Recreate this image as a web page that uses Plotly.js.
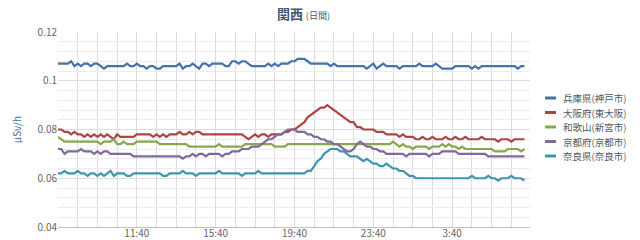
<!DOCTYPE html>
<html>
<head>
<meta charset="utf-8">
<script src="https://cdn.plot.ly/plotly-3.0.1.min.js"></script>
<style>html,body{margin:0;padding:0;background:#fff;}#chart{width:640px;height:240px;}</style>
</head>
<body>
<div id="chart"></div>
<script>
// Series names (legend)
const seriesNames = ['兵庫県(神戸市)', '大阪府(東大阪)', '和歌山(新宮市)', '京都府(京都市)', '奈良県(奈良市)'];
const seriesColors = ['#4572A7', '#AA4643', '#89A54E', '#80699B', '#3D96AE'];

// 10-minute readings from 07:40 to 07:20 next day (µSv/h)
const hyogo = [
  0.107,0.107,0.107,0.107,0.108,0.106, 0.107,0.106,0.107,0.107,0.106,0.107,
  0.107,0.106,0.105,0.106,0.106,0.106, 0.106,0.106,0.106,0.107,0.106,0.106,
  0.107,0.106,0.106,0.105,0.106,0.106, 0.105,0.105,0.106,0.106,0.106,0.106,
  0.106,0.107,0.105,0.106,0.106,0.107, 0.106,0.105,0.107,0.107,0.106,0.107,
  0.107,0.107,0.107,0.106,0.106,0.108, 0.108,0.107,0.108,0.108,0.107,0.106,
  0.106,0.106,0.106,0.106,0.107,0.106, 0.107,0.106,0.107,0.107,0.107,0.108,
  0.108,0.109,0.109,0.109,0.108,0.107, 0.107,0.107,0.107,0.107,0.107,0.106,
  0.107,0.106,0.106,0.106,0.106,0.106, 0.106,0.106,0.106,0.106,0.105,0.106,
  0.107,0.105,0.106,0.107,0.106,0.106, 0.106,0.106,0.105,0.106,0.106,0.106,
  0.106,0.106,0.107,0.106,0.106,0.106, 0.106,0.107,0.106,0.105,0.105,0.105,
  0.105,0.106,0.106,0.106,0.106,0.106, 0.105,0.106,0.105,0.106,0.106,0.106,
  0.106,0.106,0.106,0.106,0.106,0.106, 0.106,0.106,0.105,0.106,0.106
];
const osaka = [
  0.080,0.080,0.079,0.079,0.078,0.079, 0.078,0.078,0.077,0.078,0.077,0.078,
  0.077,0.078,0.077,0.078,0.077,0.076, 0.078,0.077,0.077,0.077,0.077,0.077,
  0.078,0.078,0.078,0.078,0.078,0.077, 0.078,0.077,0.078,0.077,0.078,0.078,
  0.078,0.079,0.078,0.078,0.079,0.078, 0.079,0.079,0.078,0.078,0.078,0.078,
  0.078,0.078,0.078,0.078,0.078,0.078, 0.078,0.078,0.078,0.077,0.076,0.077,
  0.078,0.077,0.078,0.078,0.077,0.078, 0.078,0.078,0.078,0.079,0.079,0.080,
  0.080,0.081,0.082,0.083,0.085,0.086, 0.087,0.088,0.089,0.089,0.090,0.089,
  0.088,0.087,0.086,0.085,0.084,0.083, 0.083,0.081,0.081,0.080,0.080,0.080,
  0.080,0.079,0.079,0.079,0.078,0.078, 0.078,0.078,0.077,0.078,0.077,0.077,
  0.077,0.076,0.076,0.077,0.076,0.076, 0.077,0.076,0.076,0.076,0.077,0.076,
  0.076,0.077,0.076,0.076,0.077,0.076, 0.076,0.076,0.076,0.077,0.076,0.076,
  0.076,0.076,0.075,0.076,0.076,0.076, 0.075,0.076,0.076,0.076,0.076
];
const wakayama = [
  0.077,0.076,0.075,0.075,0.075,0.075, 0.075,0.075,0.075,0.075,0.075,0.075,
  0.075,0.074,0.075,0.075,0.075,0.076, 0.074,0.074,0.075,0.074,0.074,0.074,
  0.075,0.075,0.075,0.075,0.075,0.075, 0.075,0.074,0.074,0.074,0.074,0.074,
  0.074,0.074,0.074,0.074,0.073,0.073, 0.073,0.073,0.073,0.073,0.073,0.073,
  0.073,0.074,0.073,0.073,0.073,0.073, 0.073,0.073,0.073,0.074,0.074,0.074,
  0.074,0.074,0.074,0.074,0.074,0.074, 0.073,0.073,0.073,0.073,0.074,0.074,
  0.074,0.074,0.074,0.074,0.074,0.074, 0.074,0.074,0.074,0.074,0.074,0.074,
  0.074,0.074,0.074,0.074,0.074,0.074, 0.074,0.074,0.074,0.074,0.074,0.074,
  0.074,0.074,0.074,0.074,0.074,0.074, 0.075,0.074,0.073,0.074,0.073,0.073,
  0.072,0.073,0.073,0.073,0.073,0.072, 0.073,0.073,0.073,0.074,0.073,0.074,
  0.073,0.073,0.072,0.073,0.072,0.072, 0.072,0.072,0.072,0.072,0.072,0.072,
  0.072,0.071,0.071,0.071,0.071,0.072, 0.072,0.072,0.072,0.071,0.072
];
const kyoto = [
  0.072,0.072,0.070,0.071,0.071,0.071, 0.071,0.072,0.071,0.071,0.071,0.070,
  0.071,0.070,0.071,0.071,0.070,0.070, 0.070,0.070,0.070,0.070,0.070,0.069,
  0.069,0.069,0.069,0.069,0.069,0.069, 0.069,0.069,0.069,0.069,0.069,0.069,
  0.069,0.069,0.068,0.069,0.069,0.070, 0.069,0.070,0.070,0.069,0.070,0.070,
  0.070,0.070,0.069,0.070,0.070,0.071, 0.071,0.071,0.072,0.072,0.072,0.073,
  0.073,0.073,0.074,0.075,0.076,0.076, 0.077,0.078,0.078,0.079,0.080,0.080,
  0.080,0.079,0.079,0.079,0.078,0.078, 0.077,0.077,0.076,0.076,0.075,0.075,
  0.074,0.074,0.073,0.072,0.071,0.071, 0.072,0.074,0.075,0.074,0.073,0.073,
  0.072,0.072,0.071,0.071,0.070,0.070, 0.070,0.070,0.070,0.070,0.069,0.070,
  0.070,0.070,0.070,0.070,0.070,0.069, 0.070,0.070,0.070,0.071,0.071,0.071,
  0.071,0.071,0.070,0.070,0.070,0.070, 0.070,0.070,0.070,0.070,0.070,0.069,
  0.069,0.069,0.069,0.069,0.069,0.069, 0.069,0.069,0.069,0.069,0.069
];
const nara = [
  0.062,0.062,0.063,0.062,0.062,0.062, 0.063,0.062,0.062,0.061,0.062,0.062,
  0.061,0.062,0.061,0.062,0.063,0.061, 0.062,0.062,0.062,0.061,0.061,0.062,
  0.062,0.062,0.062,0.062,0.062,0.062, 0.062,0.062,0.061,0.061,0.062,0.062,
  0.062,0.062,0.063,0.062,0.062,0.062, 0.061,0.062,0.062,0.062,0.062,0.062,
  0.062,0.063,0.062,0.062,0.062,0.062, 0.062,0.062,0.061,0.062,0.062,0.062,
  0.062,0.063,0.062,0.062,0.062,0.062, 0.062,0.062,0.062,0.062,0.062,0.062,
  0.062,0.062,0.062,0.062,0.063,0.063, 0.065,0.067,0.068,0.070,0.071,0.072,
  0.072,0.072,0.071,0.071,0.070,0.069, 0.069,0.069,0.068,0.067,0.068,0.067,
  0.066,0.066,0.065,0.065,0.066,0.065, 0.064,0.064,0.063,0.063,0.062,0.061,
  0.061,0.060,0.060,0.060,0.060,0.060, 0.060,0.060,0.060,0.060,0.060,0.060,
  0.060,0.060,0.060,0.060,0.060,0.060, 0.061,0.060,0.060,0.060,0.060,0.061,
  0.060,0.060,0.059,0.060,0.060,0.060, 0.061,0.060,0.060,0.060,0.059
];
const allSeries = [hyogo, osaka, wakayama, kyoto, nara];

// Time axis: readings every 10 minutes starting 07:40
const startTime = '2011-04-10T07:40:00';
const xRange = ['2011-04-10 07:40', '2011-04-11 07:37'];
const tickTimes = ['2011-04-10 11:40', '2011-04-10 15:40', '2011-04-10 19:40', '2011-04-10 23:40', '2011-04-11 03:40'];
const tickLabels = ['11:40', '15:40', '19:40', '23:40', '3:40'];

function pad(n){return (n<10?'0':'')+n;}
function timeAt(i){
  const d = new Date(startTime + 'Z');
  d.setUTCMinutes(d.getUTCMinutes() + 10*i);
  return d.getUTCFullYear()+'-'+pad(d.getUTCMonth()+1)+'-'+pad(d.getUTCDate())+' '+pad(d.getUTCHours())+':'+pad(d.getUTCMinutes());
}
const times = hyogo.map((_, i) => timeAt(i));

const traces = allSeries.map((ys, k) => ({
  x: times, y: ys, type: 'scatter', mode: 'lines', name: seriesNames[k],
  line: {color: seriesColors[k], width: 2.2}
}));

// Plot box in pixels (used to place the compact legend)
const plotL = 58, plotR = 530, plotT = 32, plotB = 227;
const plotW = plotR - plotL, plotH = plotB - plotT;

// Legend drawn as annotations + short line shapes (Highcharts-style compact legend)
const legendTop = 98, legendStep = 14.5, legendLineX0 = 545, legendLineX1 = 556, legendTextX = 561;
const annotations = seriesNames.map((nm, k) => ({
  xref: 'paper', yref: 'paper', text: nm, showarrow: false,
  x: (legendTextX - plotL) / plotW, xanchor: 'left',
  y: (plotB - (legendTop + k*legendStep)) / plotH, yanchor: 'middle',
  font: {size: 9.5, color: '#4d5866'}
}));
const shapes = seriesNames.map((nm, k) => ({
  type: 'line', xref: 'paper', yref: 'paper',
  x0: (legendLineX0 - plotL) / plotW, x1: (legendLineX1 - plotL) / plotW,
  y0: (plotB - (legendTop + k*legendStep)) / plotH, y1: (plotB - (legendTop + k*legendStep)) / plotH,
  line: {color: seriesColors[k], width: 3}
}));

const gridCol = '#dcdcdc';
const layout = {
  width: 640, height: 240,
  margin: {l: plotL, r: 640 - plotR, t: plotT, b: 240 - plotB, autoexpand: false},
  paper_bgcolor: '#fff', plot_bgcolor: '#fff',
  font: {family: '"Noto Sans CJK JP", "Liberation Sans", sans-serif', size: 10, color: '#666'},
  title: {
    text: '<b>関西</b> <span style="font-size:9px;font-weight:normal">(日間)</span>',
    font: {size: 13, color: '#3E576F'},
    x: 0.52, xref: 'paper', xanchor: 'center', y: 0.94, yanchor: 'middle'
  },
  showlegend: false,
  annotations: annotations,
  shapes: shapes,
  xaxis: {
    type: 'date', range: xRange,
    tickmode: 'array', tickvals: tickTimes, ticktext: tickLabels,
    showgrid: true, gridcolor: gridCol, gridwidth: 1,
    minor: {dtick: 3600000, tick0: xRange[0], showgrid: true, gridcolor: gridCol, gridwidth: 1, ticklen: 0},
    showline: true, linecolor: '#c0c0c0', linewidth: 1,
    ticks: '', zeroline: false, ticklabelstandoff: -3,
    tickfont: {size: 10, color: '#666'}
  },
  yaxis: {
    range: [0.04, 0.12], tickmode: 'linear', tick0: 0.04, dtick: 0.02,
    showgrid: true, gridcolor: gridCol, gridwidth: 1,
    minor: {dtick: 0.004, showgrid: true, gridcolor: '#ececec', gridwidth: 1, ticklen: 0},
    showline: false, zeroline: false, ticks: '',
    tickfont: {size: 10, color: '#666'},
    title: {text: 'μSv/h', font: {size: 10, color: '#4572A7'}, standoff: 14}
  }
};

Plotly.newPlot('chart', traces, layout, {displayModeBar: false, staticPlot: true});
</script>
</body>
</html>
